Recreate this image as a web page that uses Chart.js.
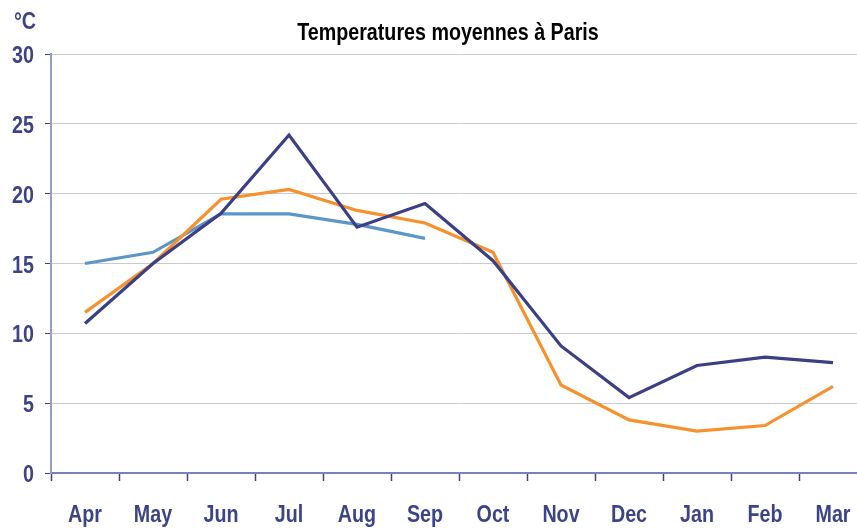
<!DOCTYPE html>
<html>
<head>
<meta charset="utf-8">
<script src="https://cdn.jsdelivr.net/npm/chart.js@4"></script>
<style>
  html, body { margin: 0; padding: 0; background: #fff; overflow: hidden; }
  #wrap { width: 857px; height: 529px; overflow: hidden; }
</style>
</head>
<body>
<div id="wrap"><canvas id="myChart" width="870" height="529"></canvas></div>
<script>
// mois (avril -> mars)
var mois = ["Apr", "May", "Jun", "Jul", "Aug", "Sep", "Oct", "Nov", "Dec", "Jan", "Feb", "Mar"];

var serieMarine = [10.7, 15.0, 18.6, 24.2, 17.6, 19.3, 15.2, 9.1, 5.4, 7.7, 8.3, 7.9];
var serieOrange = [11.5, 15.0, 19.6, 20.3, 18.8, 17.9, 15.8, 6.3, 3.8, 3.0, 3.4, 6.2];
var serieBleue  = [15.0, 15.8, 18.55, 18.55, 17.8, 16.8, null, null, null, null, null, null];

var yTicks = [0, 5, 10, 15, 20, 25, 30];

var titre = "Temperatures moyennes à Paris";
var unite = "°C";

var police = "'Liberation Sans', Arial, sans-serif";
var bleuTexte = "#3c4486";
var etroit = 0.82; // pas de police "narrow" installée -> on comprime

function texteEtroit(ctx, txt, x, y, align) {
  ctx.save();
  ctx.translate(x, y);
  ctx.scale(etroit, 1);
  ctx.textAlign = align;
  ctx.fillText(txt, 0, 0);
  ctx.restore();
}

// titre, unité et libellés des axes dessinés à la main (police comprimée)
var textesPlugin = {
  id: 'textesPlugin',
  afterDraw: function(chart) {
    var ctx = chart.ctx;
    var sx = chart.scales.x, sy = chart.scales.y;
    ctx.save();
    ctx.textBaseline = "alphabetic";
    ctx.font = "bold 24px " + police;
    ctx.fillStyle = "#000";
    texteEtroit(ctx, titre, 448, 40, "center");

    ctx.fillStyle = bleuTexte;
    texteEtroit(ctx, unite, 14, 29, "left");

    mois.forEach(function(m, i) {
      texteEtroit(ctx, m, sx.getPixelForTick(i), 522, "center");
    });
    yTicks.forEach(function(v) {
      texteEtroit(ctx, String(v), 34, sy.getPixelForValue(v) + 9, "right");
    });
    ctx.restore();
  }
};

new Chart("myChart", {
  type: "line",
  data: {
    labels: mois,
    datasets: [{
      data: serieMarine,
      borderColor: "#3a3f86",
      borderWidth: 3.2,
      fill: false
    }, {
      data: serieOrange,
      borderColor: "#f6912e",
      borderWidth: 3.2,
      fill: false
    }, {
      data: serieBleue,
      borderColor: "#5b96c6",
      borderWidth: 3.2,
      fill: false,
      spanGaps: false
    }]
  },
  options: {
    responsive: false,
    animation: false,
    layout: { padding: { top: 54, right: 3, left: 0, bottom: 0 } },
    elements: {
      point: { radius: 0, hoverRadius: 0 },
      line: { tension: 0, borderCapStyle: 'butt', borderJoinStyle: 'miter' }
    },
    plugins: {
      legend: { display: false },
      title: { display: false },
      tooltip: { enabled: false }
    },
    scales: {
      x: {
        offset: true,
        grid: {
          offset: true,
          drawOnChartArea: false,
          drawTicks: true,
          tickLength: 8,
          tickColor: "#3c4486",
          tickWidth: 1.5
        },
        border: { color: "#7a80b8", width: 2 },
        ticks: { display: false, autoSkip: false },
        afterFit: function(scale) { scale.height = 56; }
      },
      y: {
        min: 0,
        max: 30,
        afterBuildTicks: function(scale) {
          scale.ticks = yTicks.map(function(v) { return { value: v }; });
        },
        grid: {
          color: "#c9c9d3",
          lineWidth: 1,
          tickLength: 6,
          tickColor: "#3c4486"
        },
        border: { color: "#9a9cc6", width: 2 },
        ticks: { display: false },
        afterFit: function(scale) { scale.width = 51; }
      }
    }
  },
  plugins: [textesPlugin]
});
</script>
</body>
</html>
